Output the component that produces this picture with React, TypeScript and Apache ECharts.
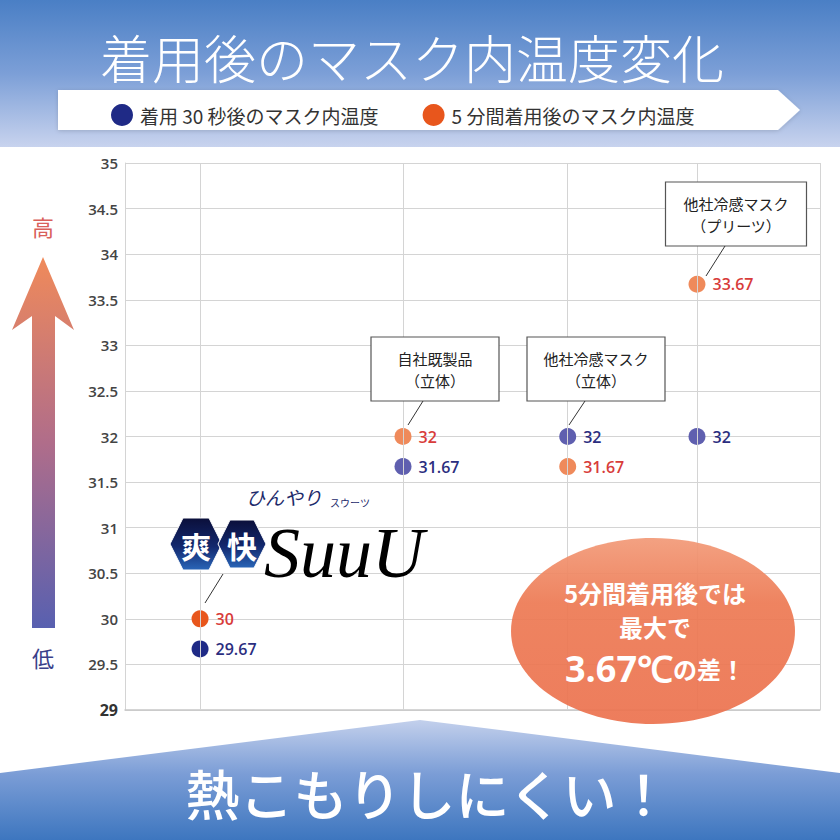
import React, { useEffect, useRef } from 'react'
import * as echarts from 'echarts'

// 製品（横位置は0〜100の軸上の位置）
const products = ['爽快SuuU', '自社既製品（立体）', '他社冷感マスク（立体）', '他社冷感マスク（プリーツ）']
const xPositions = [10.8, 40, 63.7, 82.3]
const temp30s = [29.67, 31.67, 32, 32]
const temp5min = [30, 32, 31.67, 33.67]
const seriesNames = ['着用 30 秒後のマスク内温度', '5 分間着用後のマスク内温度']

const NAVY = '#1f2a86'
const ORANGE = '#e8561c'
const NAVY_LIGHT = '#5f5faf'
const ORANGE_LIGHT = '#ef8a5b'

const JP = '"Noto Sans CJK JP", "Noto Sans", sans-serif'

const App = function () {
  const cDom = useRef<HTMLDivElement>(null)
  const cInstance = useRef<any>()

  useEffect(() => {
    if (!cDom.current) return
    cInstance.current = echarts.getInstanceByDom(cDom.current)
    if (!cInstance.current) {
      cInstance.current = echarts.init(cDom.current, null, { renderer: 'svg' })
    }

    const makeData = (vals: number[], light: string) =>
      vals.map((v, i) => ({
        name: products[i],
        value: [xPositions[i], v],
        itemStyle: i === 0 ? undefined : { color: light },
      }))

    const label = (color: string) => ({
      show: true,
      position: 'right',
      distance: 7,
      color,
      fontSize: 16,
      fontWeight: 600,
      fontFamily: '"Open Sans", sans-serif',
      formatter: (p: any) => String(p.value[1]),
    })

    const callout = (cx: number, cy: number, w: number, h: number, text: string) => [
      {
        type: 'rect',
        shape: { x: cx - w / 2, y: cy - h / 2, width: w, height: h },
        style: { fill: '#fff', stroke: '#555', lineWidth: 1.2 },
        z: 10,
      },
      {
        type: 'text',
        x: cx,
        y: cy,
        style: {
          text,
          align: 'center',
          verticalAlign: 'middle',
          fontSize: 15,
          lineHeight: 22,
          fill: '#222',
          fontFamily: JP,
        },
        z: 11,
      },
    ]

    const leader = (x1: number, y1: number, x2: number, y2: number) => ({
      type: 'line',
      shape: { x1, y1, x2, y2 },
      style: { stroke: '#333', lineWidth: 1 },
      z: 10,
    })

    const hex = (cx: number, cy: number, r: number) => ({
      type: 'polygon',
      shape: {
        points: [
          [cx - r, cy],
          [cx - r / 2, cy - r],
          [cx + r / 2, cy - r],
          [cx + r, cy],
          [cx + r / 2, cy + r],
          [cx - r / 2, cy + r],
        ],
      },
      style: {
        fill: new echarts.graphic.LinearGradient(0, 0, 0, 1, [
          { offset: 0, color: '#0b0f3a' },
          { offset: 0.55, color: '#12286e' },
          { offset: 1, color: '#2a66b8' },
        ]),
        stroke: '#fff',
        lineWidth: 1,
      },
      z: 10,
    })

    const option: any = {
      animation: false,
      backgroundColor: '#fff',
      grid: { left: 125, right: 20, top: 163, bottom: 130 },
      legend: {
        data: seriesNames,
        left: 106,
        top: 99,
        icon: 'circle',
        itemWidth: 22,
        itemHeight: 22,
        itemGap: 44,
        textStyle: { fontSize: 19, color: '#333', fontFamily: JP, padding: [0, 0, 0, 2] },
        selectedMode: false,
      },
      xAxis: {
        type: 'value',
        min: 0,
        max: 100,
        axisLabel: { show: false },
        axisTick: { show: false },
        splitLine: { show: false },
        axisLine: { show: true, lineStyle: { color: '#c8c8c8', width: 1.5 } },
      },
      yAxis: {
        type: 'value',
        min: 29,
        max: 35,
        interval: 0.5,
        axisTick: { show: false },
        axisLine: { show: true, lineStyle: { color: '#d4d4d4' } },
        splitLine: { lineStyle: { color: '#d4d4d4', width: 1 } },
        axisLabel: {
          margin: 7,
          color: '#444',
          fontSize: 15,
          fontWeight: 600,
          fontFamily: '"Open Sans", sans-serif',
          formatter: (v: number) => (v === 29 ? '{b|29}' : String(v)),
          rich: {
            b: { fontSize: 16, fontWeight: 'bold', color: '#333', fontFamily: '"Open Sans", sans-serif' },
          },
        },
      },
      series: [
        {
          name: seriesNames[0],
          type: 'scatter',
          symbolSize: 17,
          itemStyle: { color: NAVY, opacity: 1 },
          label: label('#2b2e7f'),
          data: makeData(temp30s, NAVY_LIGHT),
          markLine: {
            silent: true,
            symbol: 'none',
            label: { show: false },
            lineStyle: { color: '#d4d4d4', width: 1, type: 'solid' },
            data: [...xPositions, 100].map((x) => ({ xAxis: x })),
          },
          z: 3,
        },
        {
          name: seriesNames[1],
          type: 'scatter',
          symbolSize: 17,
          itemStyle: { color: ORANGE, opacity: 1 },
          label: label('#d83c3a'),
          data: makeData(temp5min, ORANGE_LIGHT),
          z: 3,
        },
      ],
      graphic: [
        // ヘッダー背景
        {
          type: 'rect',
          shape: { x: 0, y: 0, width: 840, height: 147 },
          style: {
            fill: new echarts.graphic.LinearGradient(0, 0, 0, 1, [
              { offset: 0, color: '#4a7fc5' },
              { offset: 0.5, color: '#7c9fd7' },
              { offset: 1, color: '#c8d3ee' },
            ]),
          },
          z: 0,
        },
        {
          type: 'text',
          x: 412,
          y: 56,
          style: {
            text: '着用後のマスク内温度変化',
            align: 'center',
            verticalAlign: 'middle',
            fontSize: 52,
            fontWeight: 300,
            fill: '#fff',
            fontFamily: JP,
          },
          z: 1,
        },
        {
          type: 'polygon',
          shape: { points: [[58, 90], [778, 90], [800, 110], [778, 130], [58, 130]] },
          style: { fill: '#fff', shadowBlur: 4, shadowColor: 'rgba(0,0,0,0.15)', shadowOffsetY: 1 },
          z: 1,
        },
        // 左の矢印
        {
          type: 'polygon',
          shape: {
            points: [[43, 257], [74, 330], [55, 316], [55, 628], [32, 628], [32, 316], [12, 330]],
          },
          style: {
            fill: new echarts.graphic.LinearGradient(0, 0, 0, 1, [
              { offset: 0, color: '#f08a5a' },
              { offset: 0.5, color: '#b06d8a' },
              { offset: 1, color: '#5860b0' },
            ]),
          },
        },
        {
          type: 'text',
          x: 43,
          y: 226,
          style: { text: '高', align: 'center', verticalAlign: 'middle', fontSize: 22, fill: '#d9605a', fontFamily: JP },
        },
        {
          type: 'text',
          x: 43,
          y: 657,
          style: { text: '低', align: 'center', verticalAlign: 'middle', fontSize: 22, fill: '#3a3f8a', fontFamily: JP },
        },
        // 吹き出し
        ...callout(435, 369, 128, 64, '自社既製品\n（立体）'),
        ...callout(596, 369, 138, 64, '他社冷感マスク\n（立体）'),
        ...callout(736, 214, 141, 64, '他社冷感マスク\n（プリーツ）'),
        leader(423, 401, 408, 425),
        leader(585, 401, 569, 425),
        leader(725, 246, 706, 276),
        leader(223, 574, 205, 603),
        // ロゴ
        {
          type: 'text',
          x: 284,
          y: 496,
          style: {
            text: 'ひんやり',
            align: 'center',
            verticalAlign: 'middle',
            fontSize: 19,
            fontStyle: 'italic',
            fill: '#1d2a6b',
            fontFamily: JP,
          },
          z: 10,
        },
        hex(196, 544, 26),
        hex(242, 544, 24),
        {
          type: 'text',
          x: 196,
          y: 545,
          style: { text: '爽', align: 'center', verticalAlign: 'middle', fontSize: 30, fontWeight: 'bold', fill: '#fff', fontFamily: JP },
          z: 11,
        },
        {
          type: 'text',
          x: 242,
          y: 545,
          style: { text: '快', align: 'center', verticalAlign: 'middle', fontSize: 30, fontWeight: 'bold', fill: '#fff', fontFamily: JP },
          z: 11,
        },
        {
          type: 'text',
          x: 264,
          y: 553,
          style: {
            text: 'SuuU',
            align: 'left',
            verticalAlign: 'middle',
            fontSize: 72,
            lineHeight: 44,
            fontStyle: 'italic',
            fontFamily: '"Liberation Serif", "DejaVu Serif", serif',
            fill: new echarts.graphic.LinearGradient(0, 0, 1, 1, [
              { offset: 0, color: '#0f1c5e' },
              { offset: 1, color: '#2d6cb9' },
            ]),
          },
          z: 10,
        },
        {
          type: 'text',
          x: 350,
          y: 502,
          style: { text: 'スウーツ', align: 'center', verticalAlign: 'middle', fontSize: 10, fill: '#1d2a6b', fontFamily: JP },
          z: 12,
        },
        // 楕円
        {
          type: 'ellipse',
          shape: { cx: 653, cy: 631, rx: 142, ry: 93 },
          style: {
            fill: new echarts.graphic.LinearGradient(0, 0, 0, 1, [
              { offset: 0, color: '#f29a78' },
              { offset: 0.35, color: '#ed7a54' },
              { offset: 1, color: '#ec7350' },
            ]),
            opacity: 0.93,
          },
          z: 10,
        },
        {
          type: 'text',
          x: 655,
          y: 634,
          style: {
            text: '{m|5分間着用後では}\n{m|最大で}\n{a|3.67℃}{b|の差！}',
            align: 'center',
            verticalAlign: 'middle',
            fill: '#fff',
            rich: {
              m: { fontSize: 24, lineHeight: 34, fontWeight: 'bold', fill: '#fff', color: '#fff', fontFamily: JP },
              a: { fontSize: 36, lineHeight: 50, fontWeight: 'bold', fill: '#fff', color: '#fff', fontFamily: '"Open Sans", sans-serif' },
              b: { fontSize: 24, lineHeight: 50, fontWeight: 'bold', fill: '#fff', color: '#fff', fontFamily: JP },
            },
          },
          z: 11,
        },
        // 下部バナー
        {
          type: 'polygon',
          shape: { points: [[0, 773], [420, 720], [840, 773], [840, 840], [0, 840]] },
          style: {
            fill: new echarts.graphic.LinearGradient(0, 0, 0, 1, [
              { offset: 0, color: '#c3d0ec' },
              { offset: 0.45, color: '#7b9dd6' },
              { offset: 1, color: '#3d76bf' },
            ]),
          },
        },
        {
          type: 'text',
          x: 428,
          y: 792,
          style: {
            text: '熱こもりしにくい！',
            align: 'center',
            verticalAlign: 'middle',
            fontSize: 54,
            fontWeight: 500,
            fill: '#fff',
            fontFamily: JP,
          },
          z: 2,
        },
      ],
    }

    cInstance.current.setOption(option)

    return () => {
      cInstance.current.dispose()
    }
  }, [])

  return (
    <div
      ref={cDom}
      style={{ position: 'absolute', left: 0, top: 0, width: 840, height: 840 }}
    />
  )
}

export default App

App.displayName = 'App'
